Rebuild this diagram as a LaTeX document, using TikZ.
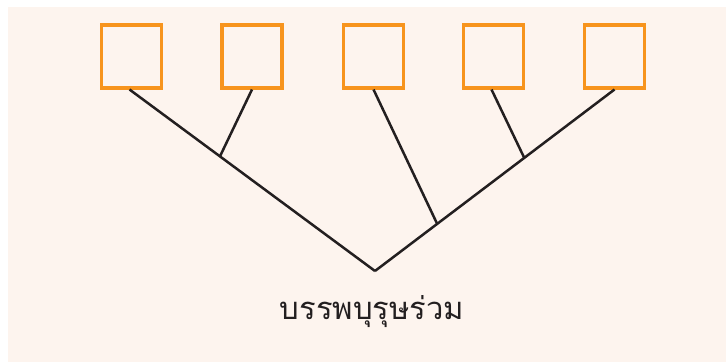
\documentclass[tikz,border=0pt]{standalone}
\usepackage{fontspec}
\newfontfamily\thaifont[Script=Thai]{Loma}
\definecolor{bgpeach}{HTML}{FDF4EE}
\definecolor{boxorange}{HTML}{F7941D}
\definecolor{linedark}{HTML}{231F20}
\begin{document}
\begin{tikzpicture}[x=1pt,y=-1pt,
  leafbox/.style={draw=boxorange,line width=3.6pt,minimum width=60pt,minimum height=63pt,inner sep=0pt,fill=none},
  branch/.style={draw=linedark,line width=2.5pt}]
\useasboundingbox (0,0) rectangle (726,362);
\fill[white] (0,0) rectangle (726,362);
\fill[bgpeach] (8,7) rectangle (726,362);
\node[leafbox] (b1) at (131.5,56.2) {};
\node[leafbox] (b2) at (252,56.2) {};
\node[leafbox] (b3) at (373.5,56.2) {};
\node[leafbox] (b4) at (493.5,56.2) {};
\node[leafbox] (b5) at (614.5,56.2) {};
\coordinate (root) at (375,271);
\coordinate (jl) at (220,156.3);
\coordinate (jm) at (437,223.5);
\coordinate (jr) at (524,157.3);
\draw[branch] ([xshift=-2pt]b1.south) -- (root);
\draw[branch] (b5.south) -- (root);
\draw[branch] (b2.south) -- (jl);
\draw[branch] (b3.south) -- (jm);
\draw[branch] ([xshift=-2pt]b4.south) -- (jr);
\node[text=linedark,font=\thaifont\fontsize{31}{37}\selectfont] (lbl) at (372,312) {บรรพบุรุษร่วม};
\end{tikzpicture}
\end{document}
